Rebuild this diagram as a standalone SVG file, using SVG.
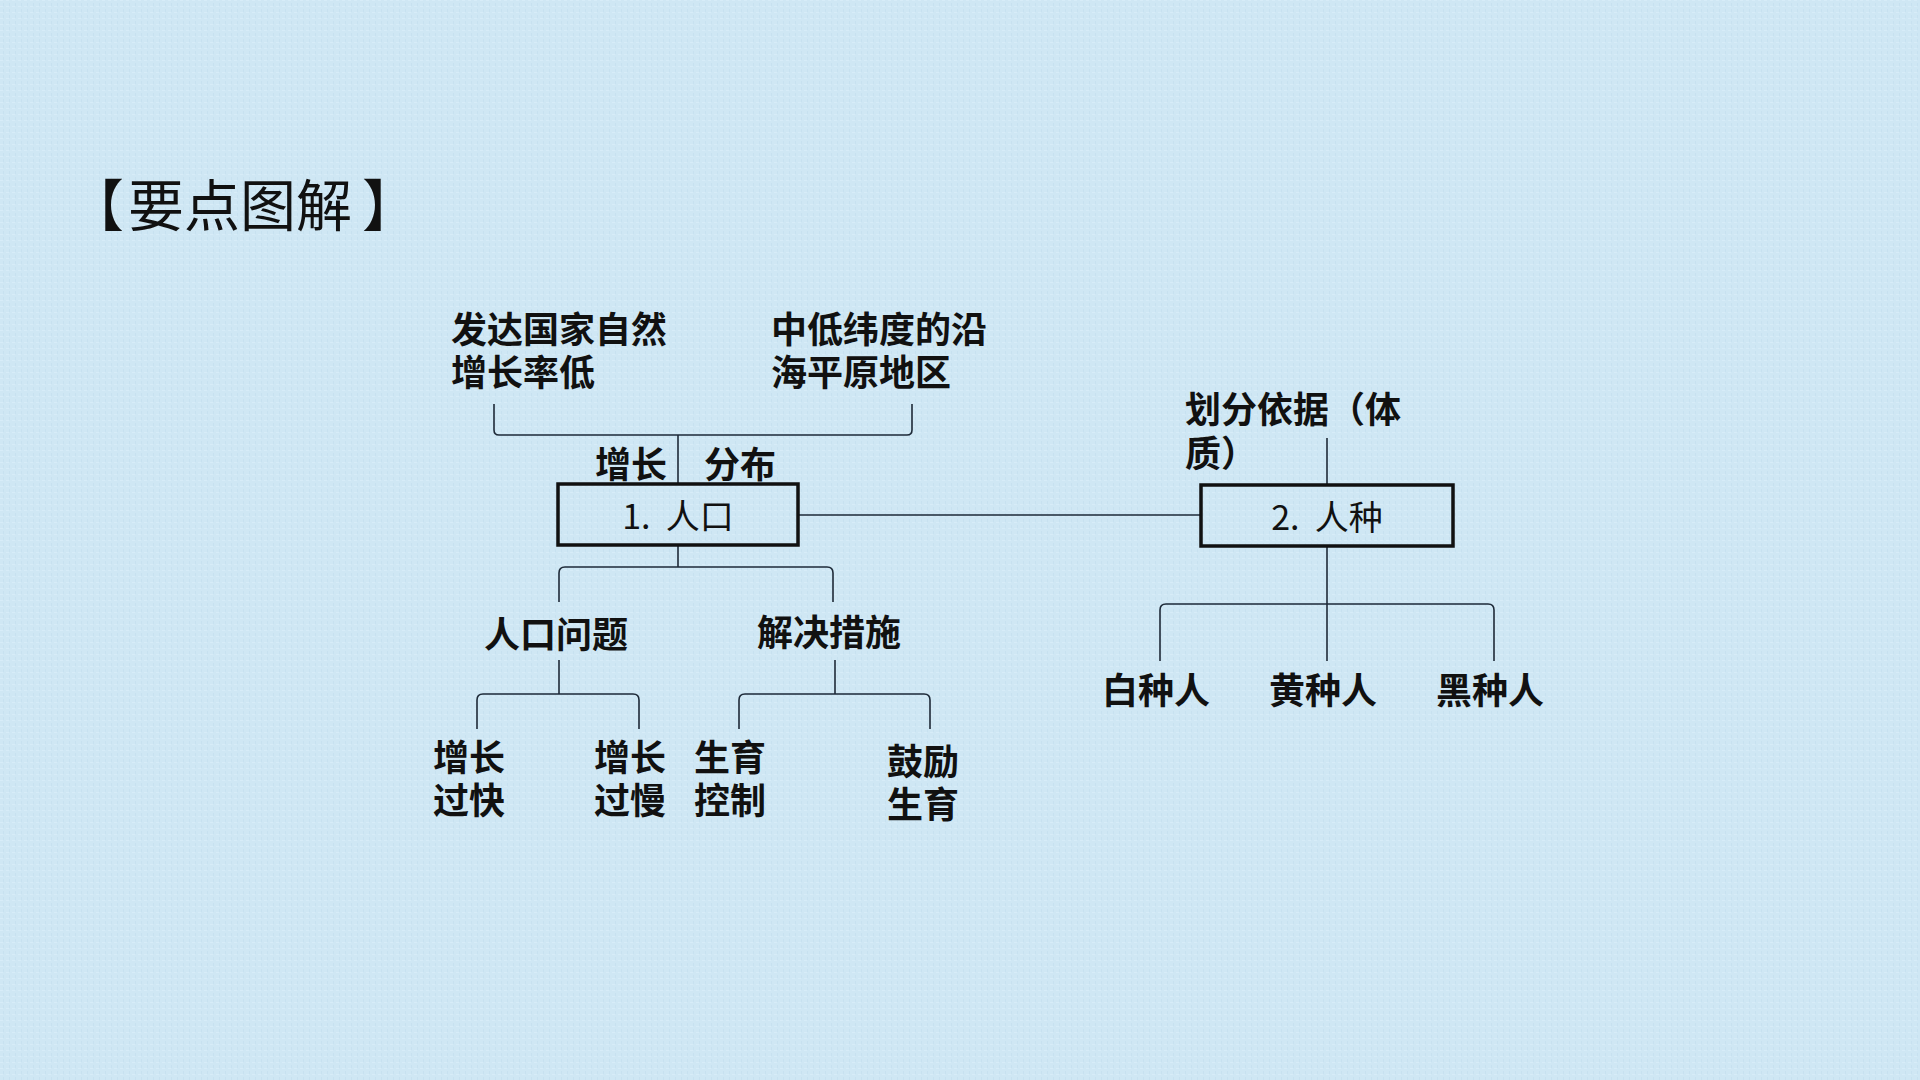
<svg xmlns="http://www.w3.org/2000/svg" width="1920" height="1080" viewBox="0 0 1920 1080">
<defs>
<style>
.bg{fill:#cfe7f4}
.lbl{font-family:"Noto Sans CJK SC","Noto Sans",sans-serif;font-weight:bold;font-size:36px;fill:#111}
.title{font-family:"Noto Sans CJK SC","Noto Sans",sans-serif;font-size:56px;fill:#111}
.box{fill:none;stroke:#111;stroke-width:3.5}
.boxt{font-family:"Noto Sans CJK SC","Noto Sans",sans-serif;font-size:34px;fill:#111;text-anchor:middle}
.ln{fill:none;stroke:#1e2a38;stroke-width:1.6}
</style>
<pattern id="tex" width="6" height="6" patternUnits="userSpaceOnUse">
<rect width="6" height="6" fill="#cfe7f4"/>
<rect x="0" y="0" width="3" height="1" fill="#dbeef9"/>
<rect x="3" y="3" width="1" height="3" fill="#c3dfee"/>
</pattern>
</defs>
<rect class="bg" width="1920" height="1080"/>
<rect width="1920" height="1080" fill="url(#tex)" opacity="0.7"/>

<text class="title" x="68" y="226">【<tspan dx="4">要点图解</tspan><tspan dx="10">】</tspan></text>

<g id="connectors">
<path class="ln" d="M494,404 V430 Q494,435 499,435 H907 Q912,435 912,430 V404"/>
<path class="ln" d="M678,435 V484"/>
<path class="ln" d="M798,515 H1200"/>
<path class="ln" d="M678,545 V567"/>
<path class="ln" d="M559,602 V573 Q559,567 565,567 H827 Q833,567 833,573 V602"/>
<path class="ln" d="M559,660 V694"/>
<path class="ln" d="M477,729 V700 Q477,694 483,694 H633 Q639,694 639,700 V729"/>
<path class="ln" d="M835,660 V694"/>
<path class="ln" d="M739,729 V700 Q739,694 745,694 H924 Q930,694 930,700 V729"/>
<path class="ln" d="M1327,438 V485"/>
<path class="ln" d="M1327,546 V661"/>
<path class="ln" d="M1160,661 V610 Q1160,604 1166,604 H1488 Q1494,604 1494,610 V661"/>
</g>

<g id="n-dev">
<text class="lbl" x="451" y="343">发达国家自然</text>
<text class="lbl" x="451" y="386">增长率低</text>
</g>
<g id="n-coast">
<text class="lbl" x="771" y="343">中低纬度的沿</text>
<text class="lbl" x="771" y="386">海平原地区</text>
</g>
<g id="n-growth"><text class="lbl" x="595" y="478">增长</text></g>
<g id="n-dist"><text class="lbl" x="704" y="478">分布</text></g>

<g id="n-pop">
<rect class="box" x="558" y="484" width="240" height="61"/>
<text class="boxt" x="678" y="529" xml:space="preserve">1.  人口</text>
</g>
<g id="n-race">
<rect class="box" x="1201" y="485" width="252" height="61"/>
<text class="boxt" x="1327" y="530" xml:space="preserve">2.  人种</text>
</g>

<g id="n-basis">
<text class="lbl" x="1185" y="423">划分依据（体</text>
<text class="lbl" x="1185" y="467">质）</text>
</g>

<g id="n-problem"><text class="lbl" x="484" y="648">人口问题</text></g>
<g id="n-measure"><text class="lbl" x="757" y="646">解决措施</text></g>

<g id="n-fast">
<text class="lbl" x="433" y="771">增长</text>
<text class="lbl" x="433" y="814">过快</text>
</g>
<g id="n-slow">
<text class="lbl" x="594" y="771">增长</text>
<text class="lbl" x="594" y="814">过慢</text>
</g>
<g id="n-control">
<text class="lbl" x="694" y="771">生育</text>
<text class="lbl" x="694" y="814">控制</text>
</g>
<g id="n-encourage">
<text class="lbl" x="887" y="775">鼓励</text>
<text class="lbl" x="887" y="818">生育</text>
</g>

<g id="n-white"><text class="lbl" x="1102" y="704">白种人</text></g>
<g id="n-yellow"><text class="lbl" x="1269" y="704">黄种人</text></g>
<g id="n-black"><text class="lbl" x="1436" y="704">黑种人</text></g>
</svg>
